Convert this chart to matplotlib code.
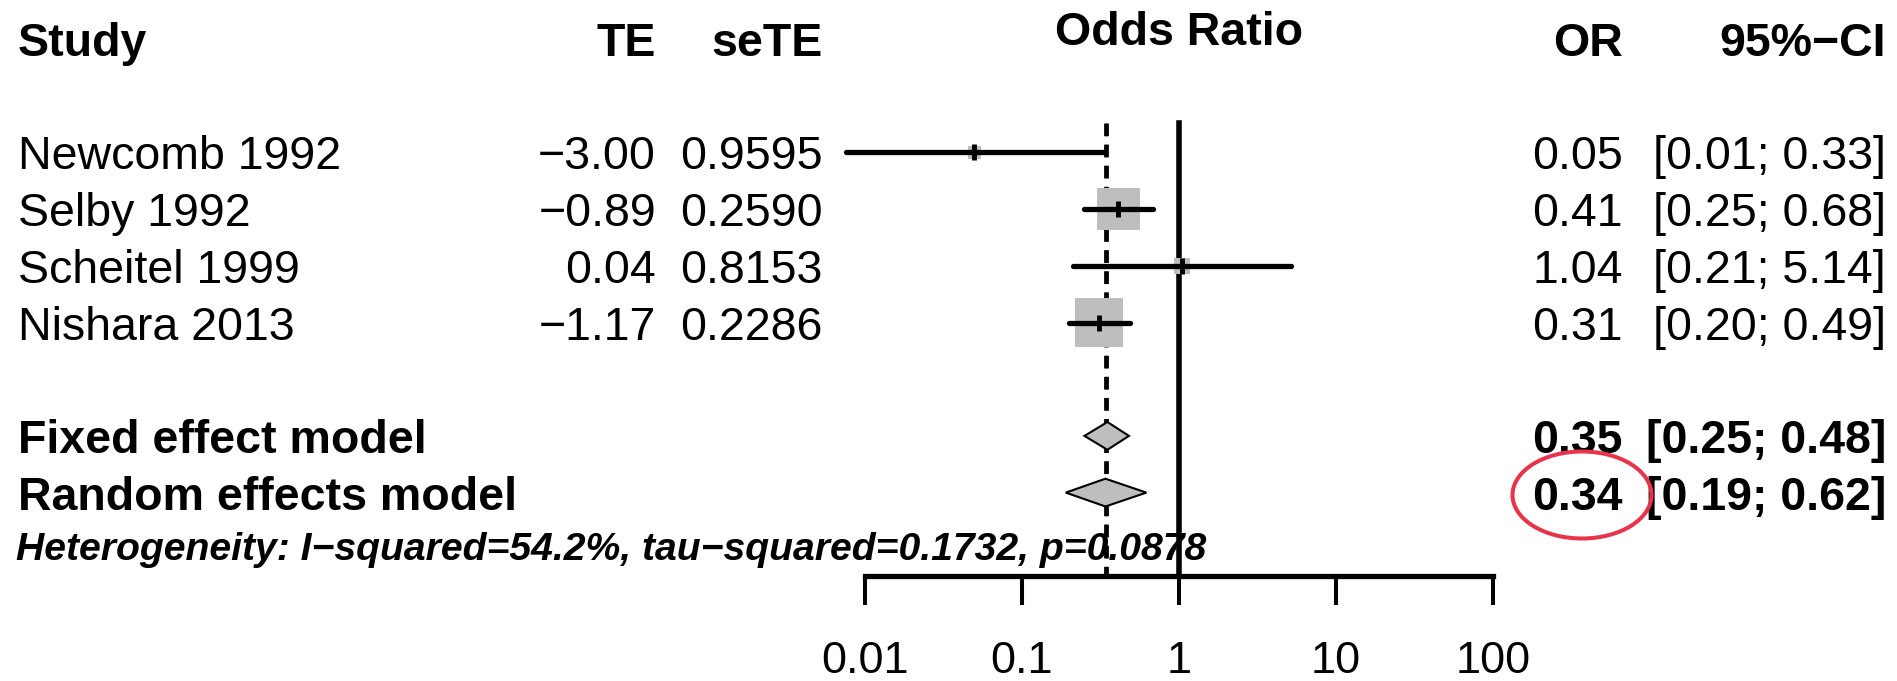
import numpy as np
import matplotlib.pyplot as plt
from matplotlib.patches import Polygon, Ellipse
from matplotlib.ticker import NullLocator

plt.rcParams['font.family'] = ['Liberation Sans', 'DejaVu Sans']

# study data
studies = ["Newcomb 1992", "Selby 1992", "Scheitel 1999", "Nishara 2013"]
te = [-3.00, -0.89, 0.04, -1.17]
se_te = [0.9595, 0.2590, 0.8153, 0.2286]
or_vals = [0.05, 0.41, 1.04, 0.31]
ci_lo = [0.01, 0.25, 0.21, 0.20]
ci_hi = [0.33, 0.68, 5.14, 0.49]

# pooled estimates
models = ["Fixed effect model", "Random effects model"]
model_or = [0.35, 0.34]
model_lo = [0.25, 0.19]
model_hi = [0.48, 0.62]

i2 = 54.2
tau2 = 0.1732
p_het = 0.0878

ticks = [0.01, 0.1, 1, 10, 100]
tick_labels = ["0.01", "0.1", "1", "10", "100"]

MINUS = "\u2212"


def fmt(v, nd):
    return f"{v:.{nd}f}".replace("-", MINUS)


W, H = 1897, 681
fig = plt.figure(figsize=(W / 100, H / 100), dpi=100)

# rows: pixel y = 39 + 56.7 * row
row_h = 56.7
y_top = -39 / row_h
y_bot = (H - 39) / row_h

study_rows = [2, 3, 4, 5]
model_rows = [7, 8]
het_row = 9
axis_row = 9.47
line_top = 1.48

fs = 33.5
fs_het = 28.2

# text table axes, x in pixels
tab = fig.add_axes([0, 0, 1, 1])
tab.set_xlim(0, W)
tab.set_ylim(y_bot, y_top)
tab.axis("off")

x_name, x_te, x_se, x_or, x_ci = 18, 656, 823, 1623, 1886
base = 0.3

# header
tab.text(x_name, base, "Study", fontsize=fs, fontweight="bold", ha="left", va="baseline")
tab.text(x_te, base, "TE", fontsize=fs, fontweight="bold", ha="right", va="baseline")
tab.text(x_se, base, "seTE", fontsize=fs, fontweight="bold", ha="right", va="baseline")
tab.text(x_or, base, "OR", fontsize=fs, fontweight="bold", ha="right", va="baseline")
tab.text(x_ci, base, "95%" + MINUS + "CI", fontsize=fs, fontweight="bold", ha="right", va="baseline")

for i, name in enumerate(studies):
    y = study_rows[i] + base
    tab.text(x_name, y, name, fontsize=fs, ha="left", va="baseline")
    tab.text(x_te, y, fmt(te[i], 2), fontsize=fs, ha="right", va="baseline")
    tab.text(x_se, y, fmt(se_te[i], 4), fontsize=fs, ha="right", va="baseline")
    tab.text(x_or, y, fmt(or_vals[i], 2), fontsize=fs, ha="right", va="baseline")
    tab.text(x_ci, y, "[" + fmt(ci_lo[i], 2) + "; " + fmt(ci_hi[i], 2) + "]",
             fontsize=fs, ha="right", va="baseline")

for i, name in enumerate(models):
    y = model_rows[i] + base
    tab.text(x_name, y, name, fontsize=fs, fontweight="bold", ha="left", va="baseline")
    tab.text(x_or, y, fmt(model_or[i], 2), fontsize=fs, fontweight="bold", ha="right", va="baseline")
    tab.text(x_ci, y, "[" + fmt(model_lo[i], 2) + "; " + fmt(model_hi[i], 2) + "]",
             fontsize=fs, fontweight="bold", ha="right", va="baseline")

het_txt = ("Heterogeneity: I" + MINUS + "squared=" + f"{i2:.1f}" + "%, tau" + MINUS
           + "squared=" + f"{tau2:.4f}" + ", p=" + f"{p_het:.4f}")
tab.text(16, het_row + 0.19, het_txt, fontsize=fs_het, fontweight="bold", style="italic",
         ha="left", va="baseline")

# red circle around the random effects OR
tab.add_patch(Ellipse((1582, (495 - 39) / row_h), 139, 87 / row_h, fill=False,
                      ec="#e8344a", lw=2.9, zorder=5))

# forest part, log scale
ax = fig.add_axes([865 / W, 0, 628 / W, 1])
ax.patch.set_visible(False)
ax.set_xscale("log")
ax.set_xlim(0.01, 100)
ax.set_ylim(y_bot, y_top)

# reference lines
ax.plot([1, 1], [line_top, axis_row], color="black", lw=4.0, zorder=1)
for m in model_or:
    ax.plot([m, m], [line_top, axis_row], color="black", lw=2.0,
            linestyle=(0, (4.6, 3.0)), zorder=1)

# studies: box, CI, estimate tick
te_a = np.array(te)
se_a = np.array(se_te)
est = np.exp(te_a)
lo = np.exp(te_a - 1.96 * se_a)
hi = np.exp(te_a + 1.96 * se_a)
w = 1 / se_a ** 2
side_pt = (3 + 10.3 * np.sqrt(w)) * 0.72
ax.scatter(est, study_rows, s=side_pt ** 2, marker="s", color="#bebebe",
           edgecolors="none", zorder=2, clip_on=False)
for i in range(len(studies)):
    ax.plot([lo[i], hi[i]], [study_rows[i]] * 2, color="black", lw=3.8,
            solid_capstyle="round", zorder=3, clip_on=False)
ax.plot(est, study_rows, linestyle="none", marker="|", markersize=12, mew=3.5,
        color="black", zorder=4)

# pooled diamonds
dh = 0.245
for i in range(len(models)):
    k = model_rows[i]
    ax.add_patch(Polygon([(model_lo[i], k), (model_or[i], k - dh),
                          (model_hi[i], k), (model_or[i], k + dh)],
                         closed=True, fc="#bebebe", ec="black", lw=1.5, zorder=3))

# x axis
ax.text(1, 0.106, "Odds Ratio", fontsize=fs, fontweight="bold", ha="center", va="baseline")
for s in ["top", "left", "right"]:
    ax.spines[s].set_visible(False)
ax.spines["bottom"].set_position(("data", axis_row))
ax.spines["bottom"].set_bounds(0.01, 100)
ax.spines["bottom"].set_linewidth(3.8)
ax.spines["bottom"].set_capstyle("projecting")
ax.set_xticks(ticks)
ax.set_xticklabels(tick_labels)
ax.xaxis.set_minor_locator(NullLocator())
ax.tick_params(axis="x", length=20.9, width=2.9, direction="out", pad=26, labelsize=32.5)
ax.set_yticks([])

fig.savefig("out.png", dpi=100)
